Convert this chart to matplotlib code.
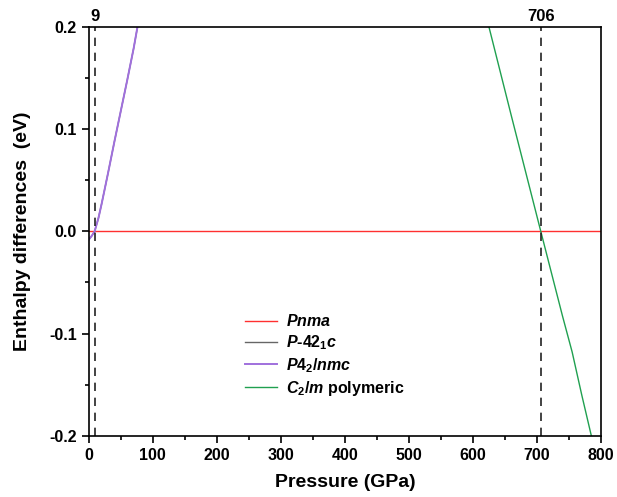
import numpy as np
import matplotlib
matplotlib.use('Agg')
import matplotlib.pyplot as plt
from matplotlib.ticker import MultipleLocator, FormatStrFormatter

plt.rcParams['font.family'] = 'Liberation Sans'
plt.rcParams['font.weight'] = 'bold'
plt.rcParams['axes.unicode_minus'] = False
plt.rcParams['mathtext.fontset'] = 'custom'
plt.rcParams['mathtext.rm'] = 'Liberation Sans:bold'
plt.rcParams['mathtext.it'] = 'Liberation Sans:bold:italic'
plt.rcParams['mathtext.bf'] = 'Liberation Sans:bold'

# enthalpy differences relative to Pnma (eV)
p_pnma = [0, 800]
h_pnma = [0, 0]

p_tet = [0, 5, 9, 15, 20, 30, 40, 50, 60, 70, 76]
h_tet = [-0.008, -0.004, 0.0, 0.013, 0.027, 0.057, 0.088, 0.118, 0.148, 0.179, 0.2]

p_c2m = [625, 660, 706, 740, 755, 770, 785]
h_c2m = [0.2, 0.113, 0.0, -0.083, -0.118, -0.16, -0.2]

transitions = [9, 706]

fig, ax = plt.subplots(figsize=(6.17, 4.97), dpi=100)
fig.subplots_adjust(left=0.144, right=0.974, top=0.946, bottom=0.123)

ax.plot(p_pnma, h_pnma, color='#ff3030', lw=1.0, label=r'$Pnma$')
ax.plot(p_tet, h_tet, color='#666666', lw=1.0, label=r'$P$-42$_1$$c$')
ax.plot(p_tet, h_tet, color='#a070dd', lw=1.4, label=r'$P$4$_2$/$nmc$')
ax.plot(p_c2m, h_c2m, color='#20a050', lw=1.0, label=r'$C_2$/$m$ polymeric')

for p in transitions:
    ax.axvline(p, color='#222222', ls=(0, (5, 4)), lw=1.2)
    ax.text(p, 0.203, str(p), ha='center', va='bottom', fontsize=12, fontweight='bold')

ax.set_xlim(0, 800)
ax.set_ylim(-0.2, 0.2)
ax.xaxis.set_major_locator(MultipleLocator(100))
ax.xaxis.set_minor_locator(MultipleLocator(50))
ax.yaxis.set_major_locator(MultipleLocator(0.1))
ax.yaxis.set_minor_locator(MultipleLocator(0.05))
ax.yaxis.set_major_formatter(FormatStrFormatter('%.1f'))
ax.tick_params(which='both', direction='out', labelsize=11.5, width=1.2)
ax.tick_params(which='major', length=5)
ax.tick_params(which='minor', length=3)
for s in ax.spines.values():
    s.set_linewidth(1.2)
for lab in ax.get_xticklabels() + ax.get_yticklabels():
    lab.set_fontweight('bold')

ax.set_xlabel('Pressure (GPa)', fontsize=14, fontweight='bold', labelpad=8)
ax.set_ylabel('Enthalpy differences  (eV)', fontsize=14, fontweight='bold', labelpad=13)

ax.legend(loc='upper left', bbox_to_anchor=(0.276, 0.335), frameon=False,
          fontsize=11.5, handlelength=2.0, handletextpad=0.6, labelspacing=0.25)

plt.savefig('out.png', dpi=100)
